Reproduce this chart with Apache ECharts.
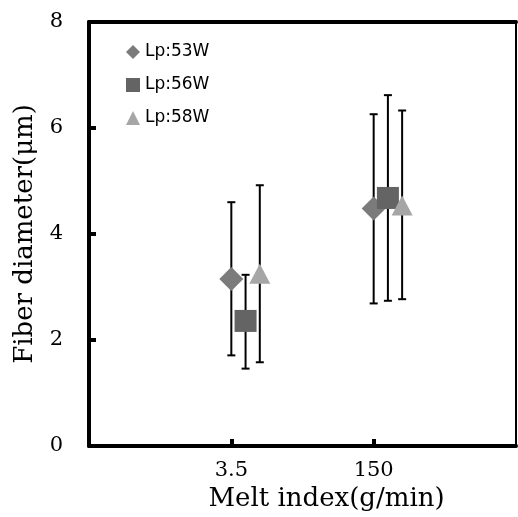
<!DOCTYPE html>
<html>
<head>
<meta charset="utf-8">
<script src="https://cdn.jsdelivr.net/npm/echarts@6/dist/echarts.min.js"></script>
<style>
  html, body { margin: 0; padding: 0; background: #fff; }
  #chart { width: 518px; height: 517px; }
</style>
</head>
<body>
<div id="chart"></div>
<script>
// melt index groups
const categories = ['3.5', '150'];
const seriesNames = ['Lp:53W', 'Lp:56W', 'Lp:58W'];
// mean fiber diameter (um) and error bar bounds
const lp53Mean = [3.15, 4.48];
const lp53Low = [1.71, 2.69];
const lp53High = [4.60, 6.26];
const lp56Mean = [2.36, 4.68];
const lp56Low = [1.46, 2.74];
const lp56High = [3.23, 6.62];
const lp58Mean = [3.25, 4.54];
const lp58Low = [1.58, 2.77];
const lp58High = [4.92, 6.33];
const yTicks = [0, 2, 4, 6, 8];

const groups = [
  { mean: lp53Mean, low: lp53Low, high: lp53High, symbol: 'diamond', size: 24, color: '#7b7b7b', shift: 0 },
  { mean: lp56Mean, low: lp56Low, high: lp56High, symbol: 'rect', size: 22, color: '#646464', shift: 0.1 },
  { mean: lp58Mean, low: lp58Low, high: lp58High, symbol: 'triangle', size: [21, 20], color: '#a6a6a6', shift: 0.2 }
];

const serif = 'DejaVu Serif';
let chart = echarts.init(document.getElementById('chart'));

// error bars drawn as custom shapes
function errRender(params, api) {
  const x = api.value(0);
  const lo = api.coord([x, api.value(1)]);
  const hi = api.coord([x, api.value(2)]);
  const st = { stroke: '#000', lineWidth: 2 };
  return {
    type: 'group',
    children: [
      { type: 'line', shape: { x1: lo[0], y1: lo[1], x2: hi[0], y2: hi[1] }, style: st },
      { type: 'line', shape: { x1: hi[0] - 4, y1: hi[1], x2: hi[0] + 4, y2: hi[1] }, style: st },
      { type: 'line', shape: { x1: lo[0] - 4, y1: lo[1], x2: lo[0] + 4, y2: lo[1] }, style: st }
    ]
  };
}

let series = [];
groups.forEach((g, i) => {
  series.push({
    type: 'custom',
    name: seriesNames[i] + '-err',
    renderItem: errRender,
    encode: { x: 0, y: [1, 2] },
    data: categories.map((c, k) => [k + 1 + g.shift, g.low[k], g.high[k]]),
    silent: true
  });
  series.push({
    type: 'scatter',
    name: seriesNames[i],
    symbol: g.symbol,
    symbolSize: g.size,
    itemStyle: { color: g.color, opacity: 1 },
    data: categories.map((c, k) => [k + 1 + g.shift, g.mean[k]])
  });
});

chart.setOption({
  animation: false,
  grid: { left: 89, right: 2, top: 22, bottom: 71 },
  legend: {
    data: seriesNames,
    orient: 'vertical',
    left: 121,
    top: 38,
    itemWidth: 14,
    itemHeight: 14,
    itemGap: 15,
    textStyle: { fontFamily: 'DejaVu Sans', fontSize: 17, color: '#000', lineHeight: 18 }
  },
  xAxis: [{
    type: 'value',
    min: 0,
    max: 3,
    interval: 1,
    name: 'Melt index(g/min)',
    nameLocation: 'middle',
    nameGap: 40,
    nameTextStyle: { fontFamily: serif, fontSize: 26, color: '#000', padding: [0, 0, 0, 48] },
    axisLine: { onZero: false, lineStyle: { color: '#000', width: 4 } },
    axisTick: { inside: true, length: 7, customValues: [1, 2], lineStyle: { color: '#000', width: 4 } },
    axisLabel: {
      customValues: [1, 2],
      formatter: v => categories[Math.round(v) - 1] || '',
      fontFamily: serif, fontSize: 21, color: '#000', margin: 14
    },
    splitLine: { show: false }
  }, {
    type: 'value', position: 'top', min: 0, max: 3,
    axisLine: { show: true, onZero: false, lineStyle: { color: '#000', width: 4 } },
    axisTick: { show: false }, axisLabel: { show: false }, splitLine: { show: false }
  }],
  yAxis: [{
    type: 'value',
    min: yTicks[0],
    max: yTicks[yTicks.length - 1],
    interval: 2,
    name: 'Fiber diameter(μm)',
    nameLocation: 'middle',
    nameGap: 50,
    nameTextStyle: { fontFamily: serif, fontSize: 26, color: '#000' },
    axisLine: { show: true, onZero: false, lineStyle: { color: '#000', width: 4 } },
    axisTick: { show: true, inside: true, length: 7, customValues: [2, 4, 6], lineStyle: { color: '#000', width: 4 } },
    axisLabel: { fontFamily: serif, fontSize: 21, color: '#000', margin: 26 },
    splitLine: { show: false }
  }, {
    type: 'value', position: 'right', min: 0, max: 8,
    axisLine: { show: true, onZero: false, lineStyle: { color: '#000', width: 2 } },
    axisTick: { show: false }, axisLabel: { show: false }, splitLine: { show: false }
  }],
  series: series
});
</script>
</body>
</html>
